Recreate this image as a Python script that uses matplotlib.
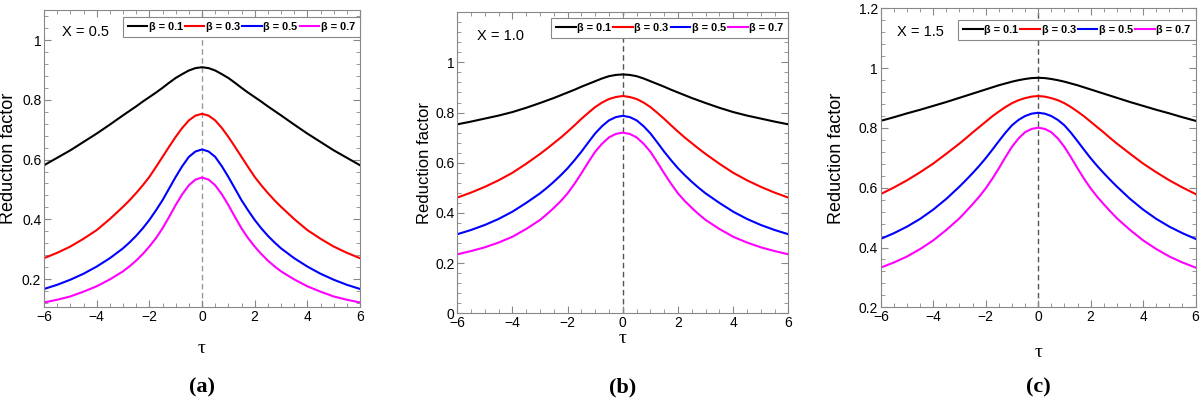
import numpy as np
import matplotlib
matplotlib.use("Agg")
import matplotlib.pyplot as plt
from matplotlib.ticker import MultipleLocator, FormatStrFormatter

# half-curves (tau >= 0); curves are symmetric about tau = 0
tau_half = [0, 0.25, 0.5, 0.75, 1, 1.25, 1.5, 1.75, 2, 2.25, 2.5, 2.75, 3,
            3.5, 4, 4.5, 5, 5.5, 6]
betas = ["β = 0.1", "β = 0.3", "β = 0.5", "β = 0.7"]
colors = ["black", "red", "blue", "magenta"]

# X = 0.5
a_b01 = [0.909, 0.906, 0.898, 0.886, 0.873, 0.857, 0.840, 0.824, 0.809, 0.794, 0.778, 0.763, 0.748,
         0.717, 0.687, 0.659, 0.631, 0.606, 0.581]
a_b03 = [0.753, 0.747, 0.731, 0.706, 0.676, 0.643, 0.609, 0.575, 0.542, 0.514, 0.488, 0.464, 0.442,
         0.401, 0.364, 0.335, 0.309, 0.288, 0.270]
a_b05 = [0.634, 0.627, 0.609, 0.578, 0.542, 0.503, 0.464, 0.430, 0.398, 0.370, 0.345, 0.323, 0.303,
         0.270, 0.242, 0.218, 0.198, 0.181, 0.167]
a_b07 = [0.540, 0.533, 0.514, 0.484, 0.448, 0.408, 0.370, 0.337, 0.309, 0.284, 0.262, 0.243, 0.226,
         0.199, 0.176, 0.158, 0.142, 0.131, 0.122]
# X = 1.0
b_b01 = [0.952, 0.950, 0.945, 0.936, 0.925, 0.914, 0.903, 0.891, 0.880, 0.869, 0.858, 0.848, 0.838,
         0.819, 0.802, 0.788, 0.776, 0.764, 0.753]
b_b03 = [0.866, 0.862, 0.854, 0.840, 0.822, 0.799, 0.775, 0.749, 0.724, 0.700, 0.678, 0.656, 0.635,
         0.596, 0.560, 0.530, 0.504, 0.481, 0.461]
b_b05 = [0.787, 0.782, 0.769, 0.746, 0.717, 0.681, 0.644, 0.610, 0.578, 0.550, 0.524, 0.500, 0.478,
         0.440, 0.405, 0.376, 0.352, 0.332, 0.315]
b_b07 = [0.720, 0.715, 0.701, 0.676, 0.644, 0.602, 0.558, 0.516, 0.478, 0.447, 0.420, 0.395, 0.372,
         0.336, 0.305, 0.282, 0.263, 0.248, 0.235]
# X = 1.5
c_b01 = [0.968, 0.967, 0.964, 0.960, 0.955, 0.949, 0.943, 0.936, 0.929, 0.922, 0.915, 0.908, 0.901,
         0.887, 0.874, 0.861, 0.849, 0.836, 0.824]
c_b03 = [0.907, 0.905, 0.900, 0.893, 0.883, 0.870, 0.855, 0.839, 0.821, 0.803, 0.785, 0.766, 0.748,
         0.714, 0.681, 0.652, 0.625, 0.601, 0.579]
c_b05 = [0.851, 0.848, 0.840, 0.827, 0.809, 0.784, 0.756, 0.727, 0.699, 0.673, 0.649, 0.626, 0.604,
         0.563, 0.527, 0.496, 0.470, 0.448, 0.429]
c_b07 = [0.801, 0.797, 0.786, 0.765, 0.737, 0.702, 0.665, 0.630, 0.598, 0.570, 0.545, 0.521, 0.498,
         0.459, 0.424, 0.395, 0.370, 0.350, 0.333]

panels = [
    dict(series=[a_b01, a_b03, a_b05, a_b07], xtxt="X = 0.5", tag="(a)",
         pos=[0.0367, 0.2306, 0.2633, 0.744], ylim=(0.1067, 1.1), dash="#999999",
         ylsize=13, leg_anchor=(1.0, 0.977), txtpos=(0.057, 0.926), xlpad=12,
         ylx=-0.086),
    dict(series=[b_b01, b_b03, b_b05, b_b07], xtxt="X = 1.0", tag="(b)",
         pos=[0.381, 0.2148, 0.276, 0.754], ylim=(0.0, 1.199), dash="#555555",
         ylsize=12, leg_anchor=(1.0, 0.981), txtpos=(0.059, 0.922), xlpad=0,
         ylx=-0.076),
    dict(series=[c_b01, c_b03, c_b05, c_b07], xtxt="X = 1.5", tag="(c)",
         pos=[0.734, 0.2298, 0.2623, 0.749], ylim=(0.2, 1.2), dash="#555555",
         ylsize=13, leg_anchor=(1.0, 0.961), txtpos=(0.05, 0.92), xlpad=14,
         ylx=-0.114),
]

plt.rcParams["font.family"] = ["Liberation Sans", "DejaVu Sans"]

fig = plt.figure(figsize=(12, 3.99), dpi=100)

th = np.array(tau_half)
tau_full = np.concatenate([-th[::-1], th[1:]])

for p in panels:
    ax = fig.add_axes(p["pos"])
    for vals, col, lab in zip(p["series"], colors, betas):
        v = np.array(vals)
        yfull = np.concatenate([v[::-1], v[1:]])
        ax.plot(tau_full, yfull, color=col, lw=1.5, label=lab)
    ax.axvline(0, color=p["dash"], ls=(0, (4, 2.5)), lw=1.0, zorder=0)
    ax.set_xlim(-6, 6)
    ax.set_ylim(*p["ylim"])
    ax.xaxis.set_major_locator(MultipleLocator(2))
    ax.xaxis.set_minor_locator(MultipleLocator(0.5))
    ax.yaxis.set_major_locator(MultipleLocator(0.2))
    ax.yaxis.set_minor_locator(MultipleLocator(0.04))
    ax.yaxis.set_major_formatter(FormatStrFormatter("%g"))
    ax.tick_params(which="both", direction="in", top=True, right=True,
                   color="#888888", labelsize=10, pad=2)
    ax.tick_params(which="major", length=5, width=0.8)
    ax.tick_params(which="minor", length=3, width=0.6)
    for s in ax.spines.values():
        s.set_color("#888888")
        s.set_linewidth(0.8)
    ax.set_ylabel("Reduction factor", fontsize=p["ylsize"])
    ax.yaxis.set_label_coords(p["ylx"], 0.5)
    ax.set_xlabel("τ", fontsize=14, family="Liberation Serif", labelpad=p["xlpad"])
    ax.text(p["txtpos"][0], p["txtpos"][1], p["xtxt"], transform=ax.transAxes,
            fontsize=10.5, va="center", ha="left")
    leg = ax.legend(loc="upper right", bbox_to_anchor=p["leg_anchor"], ncol=4,
                    prop=dict(weight="bold", size=7.8),
                    handlelength=1.8, handletextpad=0.15, columnspacing=0.2,
                    borderpad=0.45, borderaxespad=0.0, fancybox=False,
                    framealpha=1, edgecolor="#888888")
    leg.get_frame().set_linewidth(0.8)
    cx = p["pos"][0] + p["pos"][2] / 2
    fig.text(cx, 0.03, p["tag"], ha="center", va="center",
             family="Liberation Serif", weight="bold", fontsize=16)

fig.savefig("out.png", dpi=100)
